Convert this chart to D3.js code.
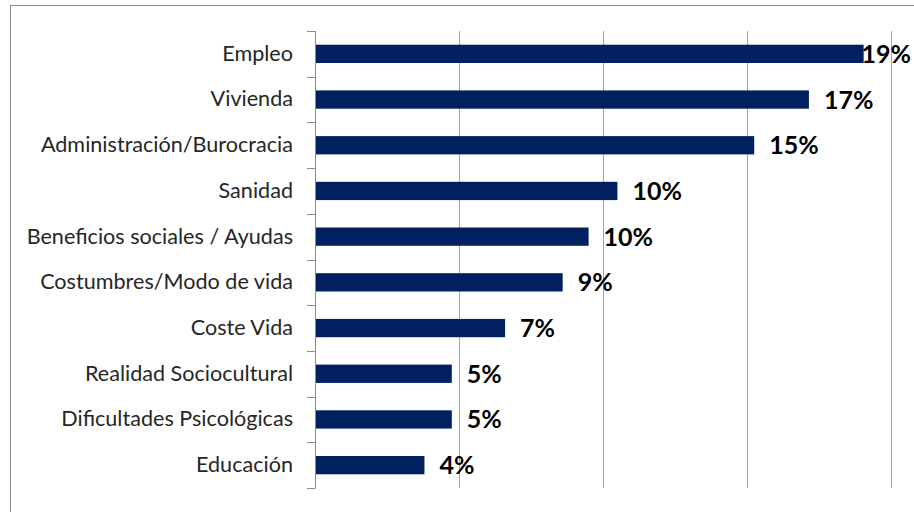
<!DOCTYPE html>
<html>
<head>
<meta charset="utf-8">
<script src="https://cdn.jsdelivr.net/npm/d3@7"></script>
<style>
  body { margin: 0; background: #fff; }
  svg { display: block; }
</style>
</head>
<body>
<script>
// Datos
var categories = ["Empleo", "Vivienda", "Administración/Burocracia", "Sanidad",
  "Beneficios sociales / Ayudas", "Costumbres/Modo de vida", "Coste Vida",
  "Realidad Sociocultural", "Dificultades Psicológicas", "Educación"];
var values = [19.05, 17.15, 15.25, 10.5, 9.5, 8.6, 6.6, 4.75, 4.75, 3.8];
var labels = ["19%", "17%", "15%", "10%", "10%", "9%", "7%", "5%", "5%", "4%"];
var gridTicks = [0, 5, 10, 15, 20];

var width = 914, height = 512;
var margin = { top: 31, right: 23, bottom: 24, left: 315 };
var w = width - margin.left - margin.right,
    h = height - margin.top - margin.bottom;

var svg = d3.select("body").append("svg")
    .attr("width", width)
    .attr("height", height);

// marco exterior
svg.append("rect")
    .attr("x", 10.5).attr("y", 5.5)
    .attr("width", 920).attr("height", 520)
    .attr("fill", "none")
    .attr("stroke", "#8c8c8c");

var g = svg.append("g")
    .attr("transform", "translate(" + margin.left + "," + margin.top + ")");

var x = d3.scaleLinear().domain([0, 20]).range([0, w]);
var y = d3.scaleBand().domain(categories).range([0, h]).paddingInner(0.6).paddingOuter(0.3);

// líneas de cuadrícula
g.selectAll(".grid")
    .data(gridTicks.slice(1))
  .enter().append("line")
    .attr("class", "grid")
    .attr("x1", function(d) { return Math.round(x(d)) + 0.5; })
    .attr("x2", function(d) { return Math.round(x(d)) + 0.5; })
    .attr("y1", 0).attr("y2", h)
    .attr("stroke", "#a6a6a6")
    .attr("stroke-width", 1);

// barras
g.selectAll(".bar")
    .data(values)
  .enter().append("rect")
    .attr("class", "bar")
    .attr("x", 0)
    .attr("y", function(d, i) { return y(categories[i]); })
    .attr("width", function(d) { return x(d); })
    .attr("height", y.bandwidth())
    .attr("fill", "#002060");

// eje vertical
var yAxis = d3.axisLeft(y).tickSize(0).tickPadding(22);
var ax = g.append("g").attr("class", "y axis").call(yAxis);
ax.select(".domain").remove();
ax.selectAll("text")
    .attr("fill", "#262626")
    .style("font-family", "Lato, 'Open Sans', sans-serif")
    .style("font-size", "21.6px");

var step = h / categories.length;
g.append("line")
    .attr("x1", 0.5).attr("x2", 0.5)
    .attr("y1", 0).attr("y2", h)
    .attr("stroke", "#8c8c8c");
g.selectAll(".tick-mark")
    .data(d3.range(categories.length + 1))
  .enter().append("line")
    .attr("x1", -8).attr("x2", 0.5)
    .attr("y1", function(d) { return Math.round(d * step) + 0.5; })
    .attr("y2", function(d) { return Math.round(d * step) + 0.5; })
    .attr("stroke", "#8c8c8c");

// etiquetas de valor
var maxRight = 911 - margin.left;
g.selectAll(".val")
    .data(values)
  .enter().append("text")
    .attr("class", "val")
    .attr("y", function(d, i) { return y(categories[i]) + y.bandwidth() / 2; })
    .attr("dy", "0.36em")
    .style("font-family", "Lato, 'Open Sans', sans-serif")
    .style("font-weight", "bold")
    .style("font-size", "25px")
    .attr("fill", "#000")
    .text(function(d, i) { return labels[i]; })
    .attr("x", function(d) {
      var tw = this.getComputedTextLength();
      return Math.min(x(d) + 15, maxRight - tw);
    });
</script>
</body>
</html>
